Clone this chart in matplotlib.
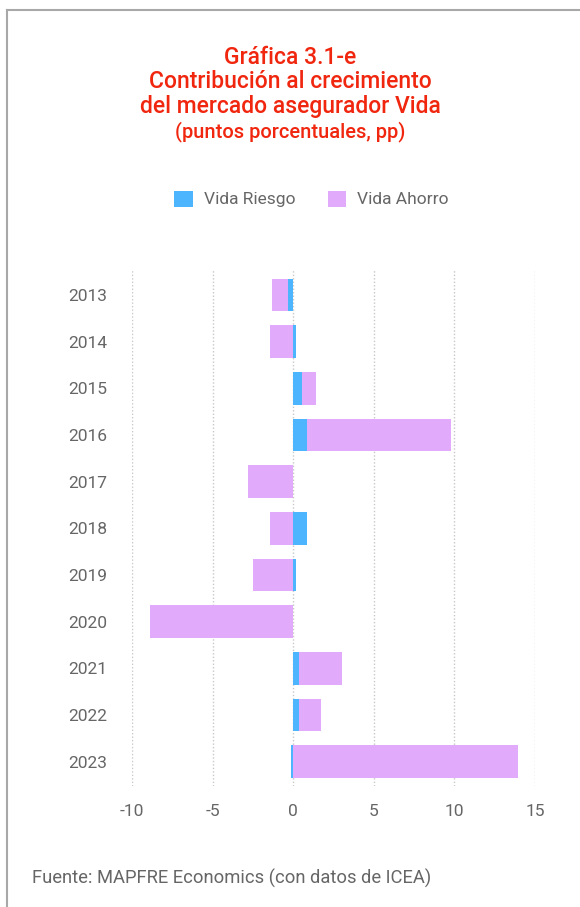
import matplotlib
matplotlib.use("Agg")
import matplotlib.pyplot as plt
from matplotlib.patches import Patch
from matplotlib.lines import Line2D
import numpy as np

years = ["2013", "2014", "2015", "2016", "2017", "2018", "2019", "2020", "2021", "2022", "2023"]
vida_riesgo = [-0.3, 0.2, 0.55, 0.87, -0.02, 0.87, 0.2, 0.0, 0.37, 0.37, -0.12]
vida_ahorro = [-1.0, -1.45, 0.85, 8.93, -2.8, -1.45, -2.5, -8.9, 2.67, 1.37, 13.95]
xticks = [-10, -5, 0, 5, 10, 15]

BLUE = "#4DB4FE"
PINK = "#E2AAFB"
RED = "#F0260F"
GRAY = "#666666"
FONT = "Roboto"

fig = plt.figure(figsize=(5.8, 9.07), dpi=100)
ax = fig.add_axes([0.2276, 0.1334, 0.6948, 0.57])

y = np.arange(len(years))
r = np.array(vida_riesgo)
a = np.array(vida_ahorro)
left_a = np.where(np.sign(a) == np.sign(r), r, 0.0)

ax.barh(y, a, left=left_a, height=0.7, color=PINK, zorder=2)
ax.barh(y, r, left=0, height=0.7, color=BLUE, zorder=3)

ax.set_xlim(-10, 15)
ax.set_ylim(10.52, -0.56)
ax.set_xticks(xticks)
ax.set_xticklabels([str(t) for t in xticks])
ax.set_yticks(y)
ax.set_yticklabels(years)
ax.tick_params(axis="both", length=0, labelsize=12.5, labelcolor=GRAY)
ax.tick_params(axis="x", pad=13)
ax.tick_params(axis="y", pad=17.5)
for lab in ax.get_xticklabels() + ax.get_yticklabels():
    lab.set_fontfamily(FONT)
ax.grid(axis="x", linestyle=(0, (1, 1.5)), color="#c8c8c8", linewidth=1, zorder=1)
ax.grid(axis="y", visible=False)
for s in ax.spines.values():
    s.set_visible(False)

# title
fig.text(0.5, 1 - 57 / 907, "Gráfica 3.1-e", ha="center", va="center",
         fontsize=16.5, color=RED, fontfamily=FONT, fontweight="medium")
fig.text(0.5, 1 - 82 / 907, "Contribución al crecimiento", ha="center", va="center",
         fontsize=16.5, color=RED, fontfamily=FONT, fontweight="medium")
fig.text(0.5, 1 - 107 / 907, "del mercado asegurador Vida", ha="center", va="center",
         fontsize=16.5, color=RED, fontfamily=FONT, fontweight="medium")
fig.text(0.5, 1 - 132 / 907, "(puntos porcentuales, pp)", ha="center", va="center",
         fontsize=14.5, color=RED, fontfamily=FONT, fontweight="medium")

# legend
handles = [Patch(facecolor=BLUE, edgecolor="none", label="Vida Riesgo"),
           Patch(facecolor=PINK, edgecolor="none", label="Vida Ahorro")]
leg = fig.legend(handles=handles, loc="center", bbox_to_anchor=(311.5 / 580, 1 - 199 / 907),
                 ncol=2, frameon=False, handlelength=1.05, handleheight=1.05,
                 columnspacing=1.85, handletextpad=0.65,
                 prop={"family": FONT, "size": 12.5})
for t in leg.get_texts():
    t.set_color(GRAY)

# footer
fig.text(32 / 580, 1 - 878 / 907, "Fuente: MAPFRE Economics (con datos de ICEA)",
         ha="left", va="center", fontsize=13.2, color=GRAY, fontfamily=FONT)

# border (top and left)
fig.add_artist(Line2D([7 / 580, 1.0], [1 - 10 / 907, 1 - 10 / 907],
                      transform=fig.transFigure, color="#a8a8a8", linewidth=1.5))
fig.add_artist(Line2D([7 / 580, 7 / 580], [1 - 10 / 907, 0.0],
                      transform=fig.transFigure, color="#a8a8a8", linewidth=1.5))

fig.savefig("out.png", dpi=100)
